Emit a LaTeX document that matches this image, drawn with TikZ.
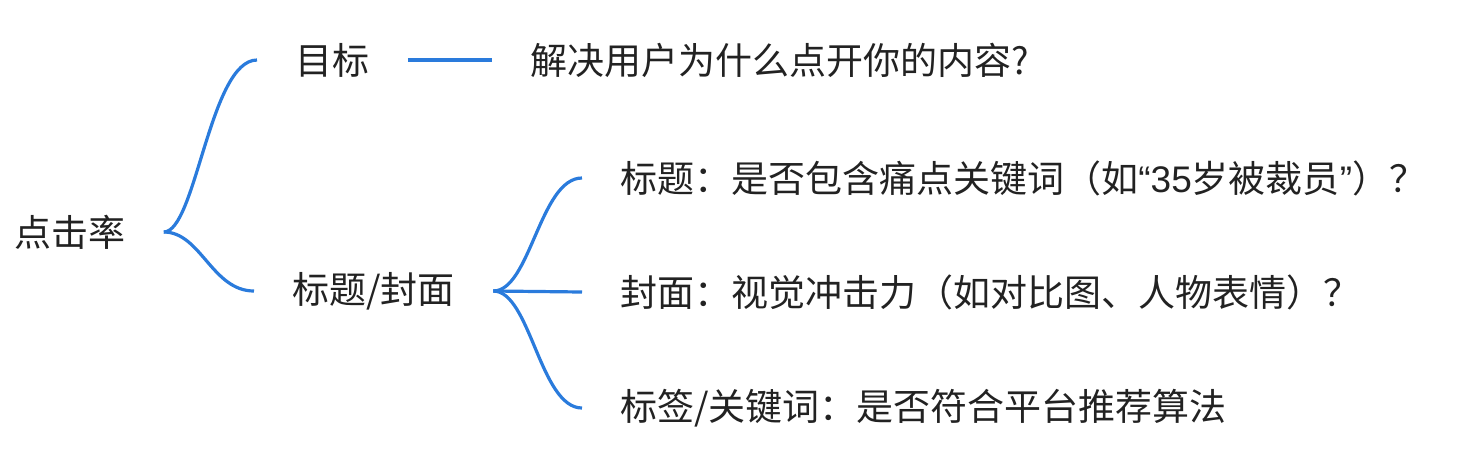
\documentclass[tikz,border=0pt]{standalone}
\usepackage{fontspec}
\setmainfont{Noto Sans CJK SC}
\newfontfamily\latinfont{Liberation Sans}
\usetikzlibrary{positioning}
\definecolor{mapBlue}{HTML}{2A7BDC}
\definecolor{mapText}{HTML}{222222}
\tikzset{
  topic/.style  = {font=\fontsize{18.5}{22}\selectfont, text=mapText,
                   inner xsep=19pt, inner ysep=2pt, anchor=west},
  branch/.style = {mapBlue, line width=1.6pt},
}

\begin{document}
\begin{tikzpicture}[x=0.5pt,y=-0.5pt]
  \useasboundingbox (0,0) rectangle (1462,452);
  \node[topic] (ctr)   at (-24,232) {点击率};
  \node[topic] (goal)  at (257,60)  {目标};
  \node[topic] (why)   at (492,60)  {解决用户为什么点开你的内容?};
  \node[topic] (cover) at (254,291) {标题/封面};
  \node[topic] (ttl)   at (582,178) {标题：是否包含痛点关键词（如{\latinfont “35}岁被裁员{\latinfont ”}）？};
  \node[topic] (look)  at (582,292) {封面：视觉冲击力（如对比图、人物表情）？};
  \node[topic] (tag)   at (582,408) {标签/关键词：是否符合平台推荐算法};
  \draw[branch] (ctr.east) .. controls +(32,0) and +(-47,0) .. (goal.west);
  \draw[branch] (ctr.east) .. controls +(37,0) and +(-42,0) .. (cover.west);
  \draw[branch] (goal.east) -- (why.west);
  \draw[branch] (cover.east) .. controls +(37,0) and +(-42,0) .. (ttl.west);
  \draw[branch] (cover.east) -- (look.west);
  \draw[branch] (cover.east) .. controls +(37,0) and +(-42,0) .. (tag.west);
\end{tikzpicture}
\end{document}
